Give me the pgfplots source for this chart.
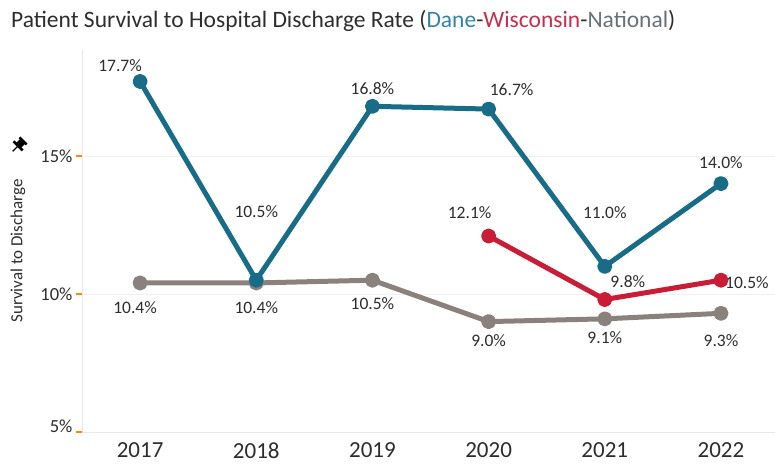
\documentclass[border=0pt]{standalone}
\usepackage{pgfplots}
\pgfplotsset{compat=1.18}
\usepackage{fontspec}
\setmainfont{Carlito}
\definecolor{dane}{RGB}{24,108,136}
\definecolor{wisc}{RGB}{200,28,55}
\definecolor{natl}{RGB}{138,129,124}
\definecolor{danet}{RGB}{50,132,166}
\definecolor{wisct}{RGB}{200,45,75}
\definecolor{natlt}{RGB}{105,112,118}
\definecolor{txt}{RGB}{45,45,45}
\definecolor{pin}{RGB}{115,115,115}
\newcommand\lab[4]{\node[font=\fontsize{17.5}{19}\selectfont, text=txt, inner sep=0pt, xshift=#3pt, yshift=#4pt] at (axis cs:#1) {#2};}
\begin{document}
\begin{tikzpicture}[x=1pt,y=1pt]
\useasboundingbox (0,0) rectangle (775,464);
\node[anchor=west, text=txt, inner sep=0pt, font=\fontsize{23.5}{26}\selectfont] at (11,443) {Patient Survival to Hospital Discharge Rate (\textcolor{danet}{Dane}-\textcolor{wisct}{Wisconsin}-\textcolor{natlt}{National})};
\node[rotate=90, text=txt, inner sep=0pt, font=\fontsize{17}{19}\selectfont] at (18,213) {Survival to Discharge};
% pin icon
\begin{scope}[shift={(19,319)}, rotate=-45]
\fill[pin] (-3.5,-1) rectangle (3.5,5);
\fill[pin] (-6.5,-2.5) rectangle (6.5,0);
\fill[pin] (-5,4.5) rectangle (5,7);
\draw[pin, line width=1.4pt] (0,-2) -- (0,-9);
\end{scope}
\begin{axis}[at={(82pt,32pt)}, anchor=south west, scale only axis,
  width=693pt, height=382pt,
  xmin=2016.5, xmax=2022.465, ymin=5, ymax=18.84,
  axis x line*=bottom, axis y line*=left,
  axis line style={draw=gray!18, line width=0.8pt},
  xtick={2017,2018,2019,2020,2021,2022},
  xticklabels={2017,2018,2019,2020,2021,2022},
  x tick style={draw=none},
  extra x ticks={2017.5,2018.5,2019.5,2020.5,2021.5},
  extra x tick labels={},
  extra x tick style={tick style={draw=gray!20, line width=0.8pt}},
  ytick={5,10,15},
  yticklabels={\raisebox{12pt}{5\%},10\%,15\%},
  y tick style={draw=orange!90!yellow, line width=1.2pt},
  major tick length=6pt, tick align=outside,
  ymajorgrids, grid style={draw=gray!12, line width=0.8pt},
  xticklabel style={font=\fontsize{23}{25}\selectfont, text=txt, yshift=-1pt},
  yticklabel style={font=\fontsize{18.5}{20}\selectfont, text=txt, xshift=0pt},
  clip=false,
]
\addplot[natl, line width=5pt, line join=round, mark=*, mark size=5pt] coordinates {(2017,10.4) (2018,10.4) (2019,10.5) (2020,9.0) (2021,9.1) (2022,9.3)};
\addplot[wisc, line width=5pt, line join=round, mark=*, mark size=5pt] coordinates {(2020,12.1) (2021,9.8) (2022,10.5)};
\addplot[dane, line width=5pt, line join=round, mark=*, mark size=5pt] coordinates {(2017,17.7) (2018,10.5) (2019,16.8) (2020,16.7) (2021,11.0) (2022,14.0)};
\lab{2017,17.7}{17.7\%}{-20}{16}
\lab{2018,10.5}{10.5\%}{0}{69}
\lab{2019,16.8}{16.8\%}{0}{18}
\lab{2020,16.7}{16.7\%}{23}{19}
\lab{2021,11.0}{11.0\%}{0}{54}
\lab{2022,14.0}{14.0\%}{0}{21}
\lab{2020,12.1}{12.1\%}{-19}{23}
\lab{2021,9.8}{9.8\%}{23}{18}
\lab{2022,10.5}{10.5\%}{26}{-2}
\lab{2017,10.4}{10.4\%}{-5}{-25}
\lab{2018,10.4}{10.4\%}{0}{-25}
\lab{2019,10.5}{10.5\%}{0}{-23}
\lab{2020,9.0}{9.0\%}{0}{-19}
\lab{2021,9.1}{9.1\%}{0}{-19}
\lab{2022,9.3}{9.3\%}{0}{-27}
\end{axis}
\end{tikzpicture}
\end{document}
